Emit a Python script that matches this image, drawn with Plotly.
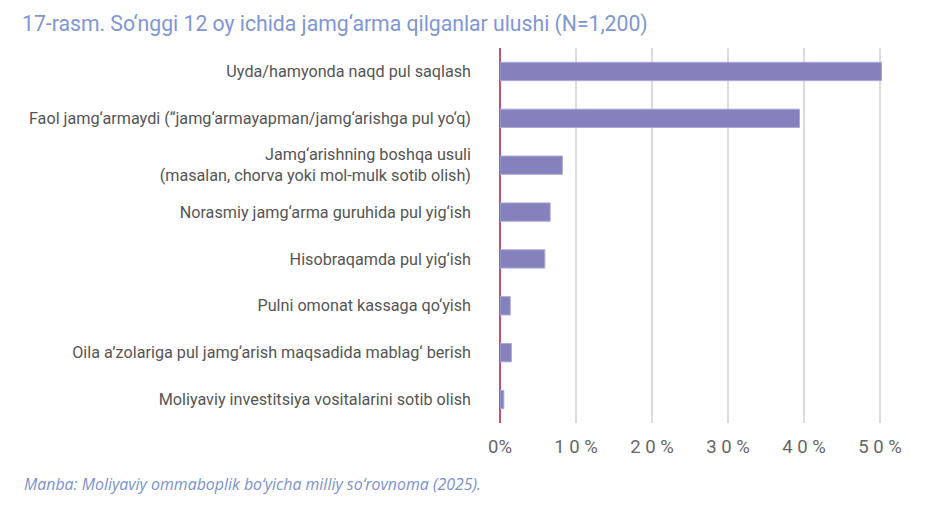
import plotly.graph_objects as go

categories = [
    "Uyda/hamyonda naqd pul saqlash",
    "Faol jamg‘armaydi (“jamg‘armayapman/jamg‘arishga pul yo‘q)",
    "Jamg‘arishning boshqa usuli<br>(masalan, chorva yoki mol-mulk sotib olish)",
    "Norasmiy jamg‘arma guruhida pul yig‘ish",
    "Hisobraqamda pul yig‘ish",
    "Pulni omonat kassaga qo‘yish",
    "Oila a’zolariga pul jamg‘arish maqsadida mablag‘ berish",
    "Moliyaviy investitsiya vositalarini sotib olish",
]
values = [50.2, 39.4, 8.2, 6.6, 5.9, 1.35, 1.5, 0.5]
tick_vals = [0, 10, 20, 30, 40, 50]
tick_text = ["0%", "1 0 %", "2 0 %", "3 0 %", "4 0 %", "5 0 %"]

title_text = "17-rasm. So‘nggi 12 oy ichida jamg‘arma qilganlar ulushi (N=1,200)"
source_text = "Manba: Moliyaviy ommaboplik bo‘yicha milliy so‘rovnoma (2025)."

# page body has an 8px default margin; compensate
OFF = 8
W, H = 945 - OFF, 505 - OFF
L, T = 500 - OFF, 48 - OFF
R = OFF + W - 882
B = OFF + H - 423
pw, ph = W - L - R, H - T - B

fig = go.Figure(go.Bar(
    x=values, y=categories, orientation="h",
    marker=dict(color="#8481bc", line=dict(color="#aaa7d8", width=1)),
    width=0.39,
))

fig.update_layout(
    width=W, height=H,
    margin=dict(l=L, r=R, t=T, b=B),
    paper_bgcolor="white", plot_bgcolor="white",
    showlegend=False,
    font=dict(family="Roboto", color="#555555"),
    title=dict(text=title_text, xref="container", x=(22 - OFF) / W, xanchor="left",
               yref="container", y=1 - (24 - OFF) / H, yanchor="middle",
               font=dict(family="Roboto", size=21.2, color="#7f96d4")),
    xaxis=dict(range=[0, 50.25], tickvals=tick_vals, ticktext=tick_text,
               showgrid=True, gridcolor="#dedbe0", gridwidth=2,
               zeroline=True, zerolinecolor="#c0507e", zerolinewidth=2,
               tickfont=dict(size=18.5, color="#666666"), ticks="",
               ticklabelstandoff=10, fixedrange=True),
    yaxis=dict(autorange="reversed", showgrid=False, ticks="",
               tickfont=dict(size=16.2, color="#555555"),
               ticklabelstandoff=28, fixedrange=True),
    annotations=[dict(text=source_text, xref="paper", yref="paper",
                      x=(22 - OFF - L) / pw, y=(T + ph - (484 - OFF)) / ph,
                      xanchor="left", yanchor="middle", showarrow=False,
                      font=dict(family="Open Sans", size=15.9, color="#7b91cf",
                                style="italic"))],
)

fig.write_html("out.html")
